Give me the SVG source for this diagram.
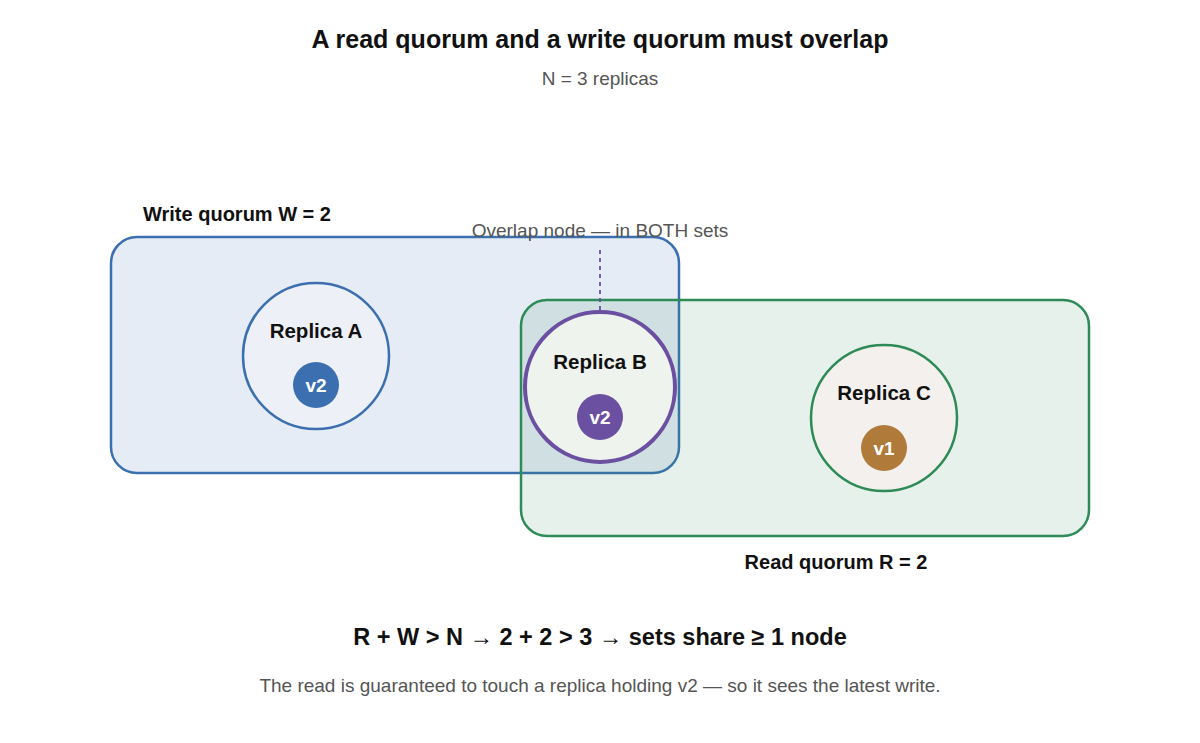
<svg xmlns="http://www.w3.org/2000/svg" width="1200" height="743" viewBox="0 0 1200 743">
<style>
text{font-family:"Liberation Sans",Arial,sans-serif;}
.title{font-size:25px;font-weight:bold;fill:#111;text-anchor:middle;}
.sub{font-size:19px;fill:#555;text-anchor:middle;}
.lbl{font-size:20px;font-weight:bold;fill:#111;}
.rep{font-size:20.5px;font-weight:bold;fill:#111;text-anchor:middle;}
.ver{font-size:19px;font-weight:bold;fill:#fff;text-anchor:middle;}
.formula{font-size:23.5px;font-weight:bold;fill:#111;text-anchor:middle;}
</style>
<rect width="1200" height="743" fill="#fff"/>
<text class="title" x="600" y="48">A read quorum and a write quorum must overlap</text>
<text class="sub" x="600" y="85">N = 3 replicas</text>
<g id="write-quorum">
<rect x="111" y="237" width="568" height="236" rx="26" fill="#3b6fb0" fill-opacity="0.13" stroke="#3b6fb0" stroke-width="2.5"/>
<text class="lbl" x="143" y="221">Write quorum W = 2</text>
</g>
<g id="read-quorum">
<rect x="521" y="300" width="568" height="236" rx="26" fill="#2e8b57" fill-opacity="0.12" stroke="#2e8b57" stroke-width="2.5"/>
<text class="lbl" x="836" y="569" text-anchor="middle">Read quorum R = 2</text>
</g>
<g id="connectors">
<line x1="600" y1="250" x2="600" y2="311" stroke="#6b4fa0" stroke-width="1.8" stroke-dasharray="4 4"/>
</g>
<g id="overlap-label">
<text class="sub" x="600" y="237">Overlap node — in BOTH sets</text>
</g>
<g id="replica-a">
<circle cx="316" cy="356" r="73" fill="#edf1f7" stroke="#3b6fb0" stroke-width="2.5"/>
<text class="rep" x="316" y="338">Replica A</text>
<circle cx="316" cy="385" r="23" fill="#3b6fb0"/>
<text class="ver" x="316" y="392">v2</text>
</g>
<g id="replica-b">
<circle cx="600" cy="387" r="75" fill="#eef3ee" stroke="#6b4fa0" stroke-width="4"/>
<text class="rep" x="600" y="369">Replica B</text>
<circle cx="600" cy="417" r="23" fill="#6b4fa0"/>
<text class="ver" x="600" y="424">v2</text>
</g>
<g id="replica-c">
<circle cx="884" cy="418" r="73" fill="#f4f0ed" stroke="#2e8b57" stroke-width="2.5"/>
<text class="rep" x="884" y="400">Replica C</text>
<circle cx="884" cy="448" r="23" fill="#b07a3a"/>
<text class="ver" x="884" y="455">v1</text>
</g>
<text class="formula" x="600" y="645">R + W &gt; N → 2 + 2 &gt; 3 → sets share ≥ 1 node</text>
<text class="sub" x="600" y="692">The read is guaranteed to touch a replica holding v2 — so it sees the latest write.</text>
</svg>
